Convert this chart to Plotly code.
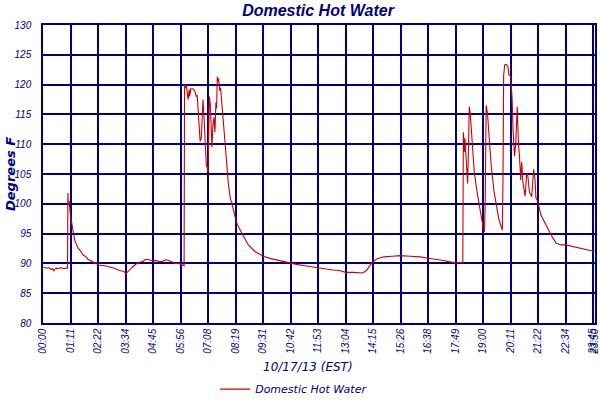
import plotly.graph_objects as go

# time in minutes since 00:00 on 10/17/13, temperature in degrees F
minutes = [0, 5, 10, 15, 20, 25, 28, 30, 35, 40, 45, 50, 55, 60, 63.5,
           64.5, 65.5, 67.6, 71, 76, 82, 91, 95, 104, 112, 116, 129, 146.5, 160, 172, 185, 198, 208, 215,
           219, 223.6, 232, 241, 250, 258, 266, 275, 283, 292, 300, 309, 318, 326, 335, 344, 352, 360.6, 365.5,
           366.7, 368.8, 371, 374, 376, 378.6, 380, 383, 388, 393, 397, 399.6, 402, 407, 410, 412, 414.5,
           417.6, 420.7, 423, 426, 427.4, 429, 431, 433.6, 435.6, 437.7, 440, 443, 445.4, 448, 449.7, 451.5,
           453, 455, 457.5, 460, 463, 466.5, 469.5, 473.6, 476.7, 480, 485, 489.6, 493.4, 498.6, 503.7, 514,
           524, 532, 549, 570.5, 590, 609, 625, 642.5, 660, 678.5, 696, 714.5, 732, 750.4, 768, 784, 804,
           827.6, 838, 845.5, 853, 866, 883, 904.6, 925, 951, 976.6, 994.6, 1020, 1037.5, 1051, 1066.7, 1080,
           1087.5,
           1089, 1091.5, 1093, 1095, 1097.6, 1100, 1101.8, 1104.4, 1107, 1109.5, 1112, 1117, 1123, 1129,
           1136, 1141, 1143.7, 1145.5, 1148, 1151.4, 1155.7, 1161.6, 1168.6, 1174.5, 1180.4, 1185.6, 1190,
           1191.7, 1193.3, 1196, 1200, 1204.6, 1207, 1211, 1215, 1218, 1221.5, 1224.6, 1228.5, 1231.8,
           1234.4, 1237.5, 1240, 1243, 1249, 1253, 1255.5, 1260, 1266, 1271, 1274.7, 1277, 1281.6, 1290,
           1303, 1316, 1329, 1341.6, 1354, 1367, 1380, 1393, 1406, 1418, 1429]
temps = [89.4, 89.3, 89.2, 89.3, 89.0, 89.1, 88.7, 89.0, 89.2, 89.1, 89.3, 89.2, 89.1, 89.2, 89.2,
         101.8, 100.3, 100.5, 98.1, 96.2, 93.9, 92.5, 92.3, 91.4, 91.1, 90.7, 90.3, 89.7, 89.6, 89.4, 89.2, 88.8, 88.7, 88.3,
         88.6, 88.9, 89.4, 89.9, 90.2, 90.3, 90.7, 90.6, 90.4, 90.5, 90.3, 90.3, 90.6, 90.5, 90.2, 90.0, 90.0, 89.8, 89.6,
         120.0, 119.5, 120.0, 118.5, 117.5, 119.2, 118.0, 119.3, 119.3, 119.0, 118.0, 118.2, 115.5, 110.5, 111.0, 116.0, 117.5,
         114.0, 110.0, 106.5, 106.0, 105.3, 110.0, 118.0, 116.5, 113.0, 109.5, 113.0, 114.5, 112.0, 117.0, 116.0, 121.3,
         120.5, 121.0, 119.0, 119.5, 117.0, 115.0, 113.0, 109.0, 106.0, 103.5, 101.0, 100.0, 99.0, 97.5, 96.5, 95.2,
         94.0, 93.1, 92.0, 91.2, 90.8, 90.5, 90.3, 90.0, 89.8, 89.6, 89.4, 89.2, 89.1, 88.9, 88.8, 88.5, 88.5,
         88.4, 88.8, 89.6, 90.2, 90.8, 91.1, 91.2, 91.3, 91.2, 91.1, 90.9, 90.7, 90.5, 90.3, 90.1, 90.2,
         90.1,
         112.0, 108.7, 111.0, 108.0, 106.5, 103.4, 108.0, 116.3, 115.0, 113.0, 110.0, 105.5, 102.6, 100.0,
         97.6, 95.9, 95.3, 100.0, 116.5, 115.2, 110.4, 106.0, 102.0, 99.8, 97.6, 96.4, 95.6,
         104.3, 121.5, 123.3, 123.4, 123.0, 121.6, 121.5, 118.0, 112.0, 108.0, 110.0, 116.3, 110.0,
         108.0, 104.0, 107.0, 103.7, 101.3, 105.0, 105.0, 102.0, 101.2, 105.8, 104.0, 101.0, 100.4, 98.1,
         96.4, 94.8, 93.4, 93.1, 93.1, 92.9, 92.8, 92.6, 92.3, 92.2, 92.0]

tick_minutes = [0, 71.25, 142.5, 213.75, 285, 356.25, 427.5, 498.75, 570, 641.25, 712.5, 783.75,
                855, 926.25, 997.5, 1068.75, 1140, 1211.25, 1282.5, 1353.75, 1425, 1430]
tick_labels = ["00:00", "01:11", "02:22", "03:34", "04:45", "05:56", "07:08", "08:19", "09:31",
               "10:42", "11:53", "13:04", "14:15", "15:26", "16:38", "17:49", "19:00", "20:11",
               "21:22", "22:34", "23:45", "23:50"]

navy = "#000080"

fig = go.Figure()
fig.add_trace(go.Scatter(
    x=minutes, y=temps, mode="lines", name="Domestic Hot Water",
    line=dict(color="#cc0000", width=1.1),
))

fig.update_layout(
    width=600, height=400,
    margin=dict(l=43, r=5, t=25, b=77, autoexpand=False),
    paper_bgcolor="white", plot_bgcolor="white",
    title=dict(text="<b><i>Domestic Hot Water</i></b>", x=0.53, xanchor="center",
               y=0.975, yanchor="middle", yref="container", automargin=False,
               font=dict(family="Liberation Sans", size=16, color=navy)),
    showlegend=True,
    legend=dict(orientation="h", x=0.455, xanchor="center", y=-0.222, yanchor="middle",
                font=dict(family="DejaVu Sans", size=11, color=navy, style="italic"),
                itemwidth=30, bgcolor="rgba(0,0,0,0)"),
    xaxis=dict(range=[0, 1430], tickmode="array", tickvals=tick_minutes, ticktext=tick_labels,
               tickangle=-90, showgrid=True, gridcolor=navy, gridwidth=1.5, automargin=False,
               ticklabeloverflow="allow",
               showline=True, linecolor=navy, linewidth=1.5, mirror=True, zeroline=False,
               ticks="", tickfont=dict(family="Liberation Sans", size=10, color=navy, style="italic")),
    yaxis=dict(range=[80, 130], dtick=5, showgrid=True, gridcolor=navy, gridwidth=1.5,
               showline=True, linecolor=navy, linewidth=1.5, mirror=True, zeroline=False,
               ticks="", ticklabelstandoff=8, automargin=False,
               tickfont=dict(family="Liberation Sans", size=10, color=navy, style="italic")),
    annotations=[
        dict(text="10/17/13 (EST)", xref="paper", yref="paper", x=0.48, y=-0.148,
             xanchor="center", yanchor="middle", showarrow=False,
             font=dict(family="DejaVu Sans", size=12, color=navy, style="italic")),
        dict(text="<b><i>Degrees F</i></b>", xref="paper", yref="paper", x=0, y=0.5,
             xanchor="center", yanchor="middle", showarrow=False, textangle=-90,
             xshift=-33, font=dict(family="DejaVu Sans", size=13, color=navy)),
    ],
)

fig.write_html("out.html", config={"displayModeBar": False},
               post_script="document.body.style.margin='0';document.body.style.padding='0';")
